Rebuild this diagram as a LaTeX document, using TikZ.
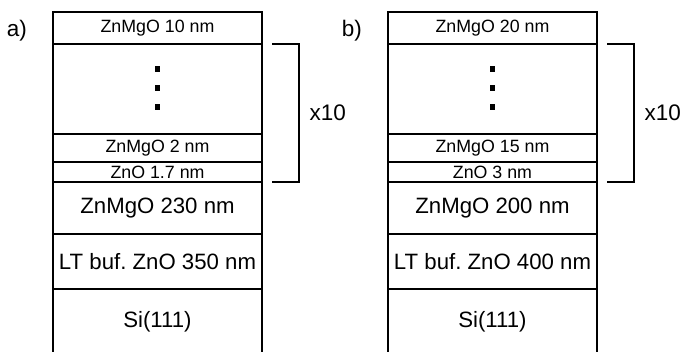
\documentclass[tikz,border=0pt]{standalone}
\usepackage{fontspec}
\setmainfont{Liberation Sans}
\usetikzlibrary{positioning}

\tikzset{
  layer/.style={draw,line width=1.3pt,minimum width=209pt,inner sep=0pt,outer sep=0pt,
    font=\fontsize{22.2}{26}\selectfont},
  thinlayer/.style={layer,font=\fontsize{17.8}{20}\selectfont},
  dotsq/.style={fill,minimum size=5.5pt,inner sep=0pt},
  bracket/.style={line width=1.3pt},
  biglabel/.style={inner sep=0pt,font=\fontsize{22.5}{26}\selectfont}
}

\begin{document}
\begin{tikzpicture}[x=1pt,y=-1pt]
    \useasboundingbox (0,0) rectangle (681,352);
    \clip (0,0) rectangle (681,352);
    \foreach \px/\pl/\ta/\tb/\tc/\td/\te in {157.5/a/10/2/1.7/230/350,492.5/b/20/15/3/200/400}{
      \node[thinlayer,minimum height=32pt,anchor=north] (\pl1) at (\px,12) {ZnMgO \ta\ nm};
      \node[layer,minimum height=90pt,below=0pt of \pl1] (\pl2) {};
      \node[thinlayer,minimum height=28pt,below=0pt of \pl2] (\pl3) {ZnMgO \tb\ nm};
      \node[thinlayer,minimum height=20pt,below=0pt of \pl3] (\pl4) {ZnO \tc\ nm};
      \node[layer,minimum height=52pt,below=0pt of \pl4] (\pl5) {ZnMgO \td\ nm};
      \node[layer,minimum height=55pt,below=0pt of \pl5] (\pl6) {LT buf.\ ZnO \te\ nm};
      \node[layer,minimum height=66pt,below=0pt of \pl6] (\pl7) {Si(111)};
      % dots inside the repeated part
      \foreach \dy in {20,1,-18}
        \node[dotsq,yshift=\dy pt] at (\pl2) {};
      % period bracket
      \draw[bracket] ([xshift=10pt]\pl2.north east) -| ([xshift=37pt]\pl4.south east)
        node[pos=.75,right=10pt,biglabel] {x10} -- ([xshift=10pt]\pl4.south east);
      \node[biglabel,left=26pt of \pl1.west,yshift=-3pt] (l\pl) {\pl)};
    }
  \end{tikzpicture}
\end{document}
